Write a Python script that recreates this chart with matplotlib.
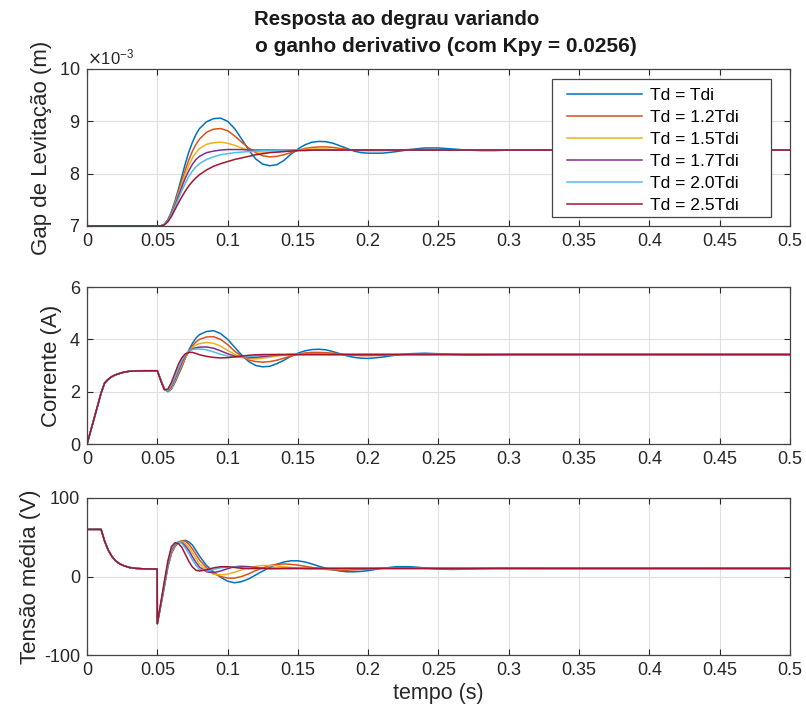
import matplotlib
matplotlib.use('Agg')
import matplotlib.pyplot as plt
from matplotlib.patches import Rectangle
from matplotlib.ticker import FuncFormatter, ScalarFormatter

plt.rcParams['font.family'] = ['Liberation Sans', 'DejaVu Sans']
plt.rcParams['axes.unicode_minus'] = False

# legend labels / colours (MATLAB default order)
labels = ['Td = Tdi', 'Td = 1.2Tdi', 'Td = 1.5Tdi', 'Td = 1.7Tdi', 'Td = 2.0Tdi', 'Td = 2.5Tdi']
colors = ['#0072BD', '#D95319', '#EDB120', '#7E2F8E', '#4DBEEE', '#A2142F']

xticks = [0, 0.05, 0.1, 0.15, 0.2, 0.25, 0.3, 0.35, 0.4, 0.45, 0.5]

# ---- before the step (common to every curve) ----
t_pre_gap = [0.0, 0.05]
gap_pre = [7.0, 7.0]

t_pre_cur = [0.0, 0.005, 0.01, 0.0125, 0.015, 0.0175, 0.02, 0.025, 0.03, 0.04, 0.05]
cur_pre = [0.0, 0.97, 1.95, 2.33, 2.47, 2.57, 2.64, 2.73, 2.78, 2.8, 2.8]

t_pre_volt = [0.0, 0.01, 0.0125, 0.015, 0.0175, 0.02, 0.0225, 0.025, 0.03, 0.035, 0.04, 0.0499]
volt_pre = [60, 60, 45, 34, 26, 20.5, 17, 14.5, 11.5, 10.3, 9.8, 9.5]

# ---- after the step ----
t_post = [0.05, 0.0525, 0.055, 0.0575, 0.06, 0.0625, 0.065, 0.0675, 0.07, 0.0725, 0.075, 0.0775, 0.08,
          0.085, 0.09, 0.095, 0.1, 0.105, 0.11, 0.115, 0.12, 0.125, 0.13, 0.135, 0.14,
          0.145, 0.15, 0.155, 0.16, 0.165, 0.17, 0.175, 0.18, 0.185, 0.19, 0.195, 0.2,
          0.21, 0.22, 0.23, 0.24, 0.25, 0.26, 0.27, 0.28, 0.29, 0.3,
          0.35, 0.4, 0.45, 0.5]

# gap (x 1e-3 m)
gap_td10 = [7.0, 7.0, 7.03, 7.12, 7.27, 7.47, 7.7, 7.95, 8.2, 8.42, 8.6, 8.75, 8.86,
            8.99, 9.05, 9.06, 9.0, 8.86, 8.66, 8.45, 8.28, 8.18, 8.15, 8.17, 8.25,
            8.37, 8.47, 8.55, 8.6, 8.615, 8.61, 8.58, 8.53, 8.48, 8.43, 8.4, 8.39,
            8.39, 8.42, 8.46, 8.49, 8.49, 8.47, 8.45, 8.44, 8.44, 8.45,
            8.45, 8.45, 8.45, 8.45]
gap_td12 = [7.0, 7.0, 7.03, 7.11, 7.25, 7.44, 7.65, 7.87, 8.08, 8.27, 8.43, 8.56, 8.66,
            8.79, 8.85, 8.86, 8.82, 8.72, 8.6, 8.49, 8.4, 8.34, 8.32, 8.33, 8.36,
            8.4, 8.44, 8.48, 8.5, 8.51, 8.51, 8.5, 8.48, 8.46, 8.45, 8.44, 8.44,
            8.44, 8.45, 8.46, 8.46, 8.46, 8.45, 8.45, 8.45, 8.45, 8.45,
            8.45, 8.45, 8.45, 8.45]
gap_td15 = [7.0, 7.0, 7.03, 7.1, 7.24, 7.41, 7.61, 7.81, 8.0, 8.16, 8.3, 8.4, 8.48,
            8.56, 8.59, 8.6, 8.58, 8.54, 8.49, 8.45, 8.42, 8.41, 8.41, 8.42, 8.43,
            8.44, 8.45, 8.46, 8.47, 8.47, 8.47, 8.46, 8.46, 8.45, 8.45, 8.45, 8.45,
            8.45, 8.45, 8.45, 8.45, 8.45, 8.45, 8.45, 8.45, 8.45, 8.45,
            8.45, 8.45, 8.45, 8.45]
gap_td17 = [7.0, 7.0, 7.03, 7.1, 7.23, 7.39, 7.57, 7.75, 7.92, 8.06, 8.18, 8.27, 8.33,
            8.4, 8.43, 8.45, 8.46, 8.46, 8.46, 8.45, 8.45, 8.45, 8.45, 8.45, 8.45,
            8.45, 8.45, 8.45, 8.45, 8.45, 8.45, 8.45, 8.45, 8.45, 8.45, 8.45, 8.45,
            8.45, 8.45, 8.45, 8.45, 8.45, 8.45, 8.45, 8.45, 8.45, 8.45,
            8.45, 8.45, 8.45, 8.45]
gap_td20 = [7.0, 7.0, 7.03, 7.09, 7.21, 7.36, 7.52, 7.68, 7.82, 7.95, 8.05, 8.13, 8.19,
            8.27, 8.32, 8.36, 8.38, 8.4, 8.41, 8.42, 8.43, 8.44, 8.44, 8.45, 8.45,
            8.45, 8.45, 8.45, 8.45, 8.45, 8.45, 8.45, 8.45, 8.45, 8.45, 8.45, 8.45,
            8.45, 8.45, 8.45, 8.45, 8.45, 8.45, 8.45, 8.45, 8.45, 8.45,
            8.45, 8.45, 8.45, 8.45]
gap_td25 = [7.0, 7.0, 7.02, 7.08, 7.18, 7.31, 7.44, 7.56, 7.67, 7.77, 7.85, 7.92, 7.98,
            8.07, 8.14, 8.19, 8.23, 8.27, 8.3, 8.33, 8.36, 8.38, 8.4, 8.41, 8.42,
            8.43, 8.44, 8.44, 8.45, 8.45, 8.45, 8.45, 8.45, 8.45, 8.45, 8.45, 8.45,
            8.45, 8.45, 8.45, 8.45, 8.45, 8.45, 8.45, 8.45, 8.45, 8.45,
            8.45, 8.45, 8.45, 8.45]

# current (A)
cur_td10 = [2.8, 2.45, 2.1, 2.0, 2.1, 2.35, 2.65, 2.95, 3.3, 3.6, 3.85, 4.05, 4.18,
            4.3, 4.33, 4.22, 4.0, 3.7, 3.4, 3.15, 3.0, 2.95, 2.97, 3.07, 3.2,
            3.35, 3.47, 3.56, 3.61, 3.62, 3.6, 3.53, 3.45, 3.37, 3.31, 3.28, 3.27,
            3.32, 3.4, 3.45, 3.47, 3.45, 3.42, 3.4, 3.4, 3.41, 3.42,
            3.42, 3.42, 3.42, 3.42]
cur_td12 = [2.8, 2.45, 2.1, 2.01, 2.12, 2.38, 2.7, 3.0, 3.3, 3.55, 3.75, 3.9, 4.0,
            4.09, 4.1, 4.0, 3.8, 3.55, 3.35, 3.21, 3.15, 3.13, 3.15, 3.2, 3.28,
            3.36, 3.43, 3.48, 3.5, 3.5, 3.49, 3.47, 3.44, 3.41, 3.39, 3.38, 3.38,
            3.39, 3.41, 3.43, 3.44, 3.44, 3.43, 3.42, 3.42, 3.42, 3.42,
            3.42, 3.42, 3.42, 3.42]
cur_td15 = [2.8, 2.44, 2.1, 2.02, 2.15, 2.42, 2.75, 3.05, 3.33, 3.53, 3.68, 3.78, 3.84,
            3.88, 3.85, 3.74, 3.58, 3.43, 3.32, 3.26, 3.25, 3.28, 3.32, 3.36, 3.4,
            3.43, 3.44, 3.45, 3.45, 3.44, 3.43, 3.42, 3.42, 3.42, 3.42, 3.42, 3.42,
            3.42, 3.42, 3.42, 3.42, 3.42, 3.42, 3.42, 3.42, 3.42, 3.42,
            3.42, 3.42, 3.42, 3.42]
cur_td17 = [2.8, 2.43, 2.09, 2.03, 2.2, 2.48, 2.82, 3.12, 3.38, 3.54, 3.63, 3.68, 3.7,
            3.71, 3.66, 3.56, 3.45, 3.36, 3.31, 3.3, 3.31, 3.34, 3.37, 3.4, 3.41,
            3.42, 3.42, 3.42, 3.42, 3.42, 3.42, 3.42, 3.42, 3.42, 3.42, 3.42, 3.42,
            3.42, 3.42, 3.42, 3.42, 3.42, 3.42, 3.42, 3.42, 3.42, 3.42,
            3.42, 3.42, 3.42, 3.42]
cur_td20 = [2.8, 2.42, 2.08, 2.05, 2.25, 2.55, 2.9, 3.2, 3.42, 3.55, 3.61, 3.63, 3.63,
            3.6, 3.52, 3.43, 3.36, 3.32, 3.32, 3.34, 3.37, 3.4, 3.41, 3.42, 3.42,
            3.42, 3.42, 3.42, 3.42, 3.42, 3.42, 3.42, 3.42, 3.42, 3.42, 3.42, 3.42,
            3.42, 3.42, 3.42, 3.42, 3.42, 3.42, 3.42, 3.42, 3.42, 3.42,
            3.42, 3.42, 3.42, 3.42]
cur_td25 = [2.8, 2.4, 2.07, 2.1, 2.35, 2.7, 3.05, 3.3, 3.45, 3.5, 3.5, 3.46, 3.41,
            3.35, 3.31, 3.29, 3.3, 3.33, 3.36, 3.39, 3.41, 3.42, 3.42, 3.42, 3.42,
            3.42, 3.42, 3.42, 3.42, 3.42, 3.42, 3.42, 3.42, 3.42, 3.42, 3.42, 3.42,
            3.42, 3.42, 3.42, 3.42, 3.42, 3.42, 3.42, 3.42, 3.42, 3.42,
            3.42, 3.42, 3.42, 3.42]

# average voltage (V)
volt_td10 = [-60, -37, -13, 12, 29, 38, 43, 45.5, 46, 44, 40, 33, 26,
             14, 6, -1, -6, -8, -6.5, -3, 2, 7, 11.5, 15.5, 18.5,
             20, 20, 18.5, 16, 13, 10.5, 8.5, 7, 6, 6, 6.5, 7.5,
             10.5, 12.5, 12.5, 11, 9.5, 9, 9.5, 10, 10.5, 10.5,
             10.3, 10.3, 10.3, 10.3]
volt_td12 = [-60, -36, -12, 13, 30, 39, 44, 45.5, 45, 41, 35, 28, 21,
             11, 4, 0, -2, -2, 0, 3.5, 7.5, 11, 14, 15.5, 16,
             15.5, 14.5, 13, 11.5, 10, 9, 8.5, 8, 8, 8.5, 9, 9.5,
             10.5, 11, 11, 10.5, 10, 10, 10, 10.3, 10.3, 10.3,
             10.3, 10.3, 10.3, 10.3]
volt_td15 = [-60, -36, -11, 14, 31, 40, 44, 44.5, 42, 37, 30, 23, 16,
             8, 3, 2, 3, 5.5, 8.5, 11, 13, 14, 14, 13.5, 12.5,
             11.5, 10.5, 10, 9.5, 9.5, 9.5, 10, 10, 10.3, 10.3, 10.3, 10.3,
             10.3, 10.3, 10.3, 10.3, 10.3, 10.3, 10.3, 10.3, 10.3, 10.3,
             10.3, 10.3, 10.3, 10.3]
volt_td17 = [-60, -35, -10, 15, 33, 41, 44, 43, 39, 33, 25, 18, 12,
             6, 5, 7, 10, 12.5, 13, 12.5, 11.5, 10.5, 10, 10, 10.3,
             10.3, 10.3, 10.3, 10.3, 10.3, 10.3, 10.3, 10.3, 10.3, 10.3, 10.3, 10.3,
             10.3, 10.3, 10.3, 10.3, 10.3, 10.3, 10.3, 10.3, 10.3, 10.3,
             10.3, 10.3, 10.3, 10.3]
volt_td20 = [-60, -34, -8, 17, 35, 42, 44, 42, 36, 29, 21, 14, 9,
             7, 9, 11, 12, 12, 11, 10.5, 10, 10.3, 10.3, 10.3, 10.3,
             10.3, 10.3, 10.3, 10.3, 10.3, 10.3, 10.3, 10.3, 10.3, 10.3, 10.3, 10.3,
             10.3, 10.3, 10.3, 10.3, 10.3, 10.3, 10.3, 10.3, 10.3, 10.3,
             10.3, 10.3, 10.3, 10.3]
volt_td25 = [-60, -33, -6, 20, 38, 43, 42, 37, 28, 19, 12, 8, 7,
             8.5, 11, 12.5, 12.5, 11.5, 10.5, 10, 10.3, 10.3, 10.3, 10.3, 10.3,
             10.3, 10.3, 10.3, 10.3, 10.3, 10.3, 10.3, 10.3, 10.3, 10.3, 10.3, 10.3,
             10.3, 10.3, 10.3, 10.3, 10.3, 10.3, 10.3, 10.3, 10.3, 10.3,
             10.3, 10.3, 10.3, 10.3]

gap_all = [gap_td10, gap_td12, gap_td15, gap_td17, gap_td20, gap_td25]
cur_all = [cur_td10, cur_td12, cur_td15, cur_td17, cur_td20, cur_td25]
volt_all = [volt_td10, volt_td12, volt_td15, volt_td17, volt_td20, volt_td25]

fig = plt.figure(figsize=(8.06, 7.15), dpi=100)
fig.patch.set_facecolor('white')
ax1 = fig.add_axes([0.108, 0.684, 0.872, 0.2196])
ax2 = fig.add_axes([0.108, 0.379, 0.872, 0.2196])
ax3 = fig.add_axes([0.108, 0.0839, 0.872, 0.2196])

def style_axes(ax, yticks, ylim):
    ax.set_xlim(0, 0.5)
    ax.set_xticks(xticks)
    ax.xaxis.set_major_formatter(FuncFormatter(lambda v, p: '%g' % round(v, 3)))
    ax.set_ylim(ylim)
    ax.set_yticks(yticks)
    ax.grid(True, color='#dfdfdf', linewidth=0.8)
    ax.set_axisbelow(True)
    ax.tick_params(direction='in', top=True, right=True, length=4, width=0.8,
                   labelsize=13, colors='#262626', pad=5)
    for s in ax.spines.values():
        s.set_color('#454545')
        s.set_linewidth(0.9)

# gap
for vals, c, lab in zip(gap_all, colors, labels):
    ax1.plot(t_pre_gap + t_post, [v * 1e-3 for v in gap_pre + vals], color=c, lw=1.1, label=lab)
style_axes(ax1, [0.007, 0.008, 0.009, 0.010], (0.007, 0.010))
fmt = ScalarFormatter(useMathText=True)
fmt.set_powerlimits((-3, -3))
ax1.yaxis.set_major_formatter(fmt)
ax1.yaxis.get_offset_text().set_fontsize(12)
ax1.yaxis.get_offset_text().set_color('#262626')
ax1.set_ylabel('Gap de Levitação (m)', fontsize=16, color='#262626')
ax1.yaxis.set_label_coords(-0.05, 0.5)

# legend box drawn separately so that its size matches the original
ax1.add_patch(Rectangle((0.662, 0.059), 0.3105, 0.875, transform=ax1.transAxes,
                        facecolor='white', edgecolor='#454545', linewidth=0.9,
                        zorder=4, clip_on=False))
leg = ax1.legend(loc='upper left', bbox_to_anchor=(0.6828, 0.88), fontsize=12.6,
                 handlelength=4.3, labelspacing=0.385, borderaxespad=0, borderpad=0,
                 handletextpad=0.42, frameon=False)
leg.set_zorder(5)

ax1.text(0.441, 1.312, 'Resposta ao degrau variando', transform=ax1.transAxes,
         ha='center', va='center', fontsize=14.7, fontweight='bold', color='#1a1a1a')
ax1.text(0.511, 1.146, 'o ganho derivativo (com Kpy = 0.0256)', transform=ax1.transAxes,
         ha='center', va='center', fontsize=15, fontweight='bold', color='#1a1a1a')

# current
for vals, c in zip(cur_all, colors):
    ax2.plot(t_pre_cur + t_post, cur_pre + vals, color=c, lw=1.1)
style_axes(ax2, [0, 2, 4, 6], (0, 6))
ax2.set_ylabel('Corrente (A)', fontsize=16, color='#262626')
ax2.yaxis.set_label_coords(-0.035, 0.5)

# voltage
for vals, c in zip(volt_all, colors):
    ax3.plot(t_pre_volt + t_post, volt_pre + vals, color=c, lw=1.1)
style_axes(ax3, [-100, 0, 100], (-100, 100))
ax3.set_ylabel('Tensão média (V)', fontsize=16, color='#262626')
ax3.yaxis.set_label_coords(-0.065, 0.5)
ax3.set_xlabel('tempo (s)', fontsize=15.5, color='#262626', labelpad=3)

fig.savefig('out.png', dpi=100, facecolor='white')
